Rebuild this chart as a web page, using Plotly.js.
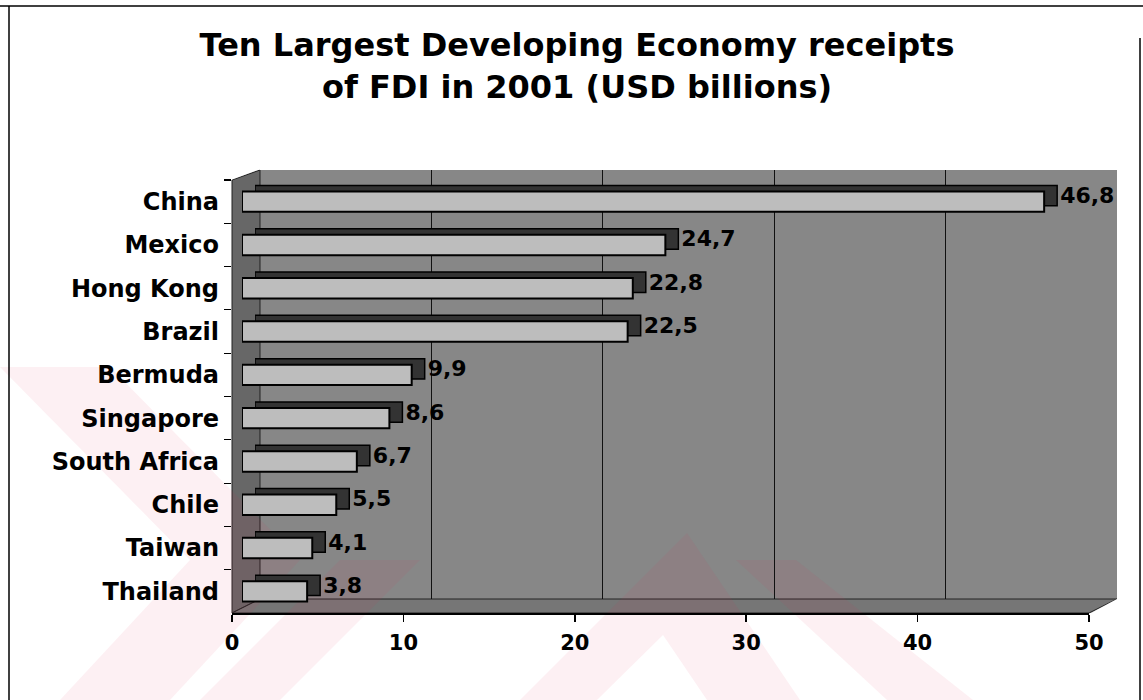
<!DOCTYPE html>
<html>
<head>
<meta charset="utf-8">
<script src="https://cdn.plot.ly/plotly-3.0.1.min.js"></script>
<style>
  html, body { margin: 0; padding: 0; background: #ffffff; }
  #chart { width: 1143px; height: 700px; }
</style>
</head>
<body>
<div id="chart"></div>
<script>
// ---- data ----
const categories = ['China', 'Mexico', 'Hong Kong', 'Brazil', 'Bermuda', 'Singapore', 'South Africa', 'Chile', 'Taiwan', 'Thailand'];
const fdiValues = [46.8, 24.7, 22.8, 22.5, 9.9, 8.6, 6.7, 5.5, 4.1, 3.8];
const xTickValues = [0, 10, 20, 30, 40, 50];
const titleText = 'Ten Largest Developing Economy receipts<br>of FDI in 2001 (USD billions)';

// ---- geometry (pixels) ----
const FIG_W = 1143, FIG_H = 700;
const L = 232, R = 1118, T = 170, B = 613;
function fx(px) { return (px - L) / (R - L); }
function fy(py) { return (B - py) / (B - T); }
function path(pts) {
  return 'M ' + pts.map(p => fx(p[0]).toFixed(5) + ',' + fy(p[1]).toFixed(5)).join(' L ') + ' Z';
}
function polyShape(pts, fill, layer, lineColor, lineWidth) {
  return { type: 'path', xref: 'paper', yref: 'paper', path: path(pts), fillcolor: fill,
           line: { color: lineColor || 'rgba(0,0,0,0)', width: lineWidth || 0 }, layer: layer || 'below' };
}
function lineShape(x0, y0, x1, y1, w) {
  return { type: 'line', xref: 'paper', yref: 'paper', x0: fx(x0), y0: fy(y0), x1: fx(x1), y1: fy(y1),
           line: { color: '#000', width: w || 1.5 }, layer: 'above' };
}

const FONT = 'DejaVu Sans, Verdana, sans-serif';
const AXIS_SPAN = 857; // pixels from 0 to 50

const pink = 'rgba(228,45,80,0.07)';
const shapes = [
  // plot wall background
  polyShape([[232, 170], [1118, 170], [1118, 613], [232, 613]], '#878787'),
  // left wall
  polyShape([[232, 180], [260, 170], [260, 599], [232, 613]], '#676767', 'below', '#222', 1),
  // floor
  polyShape([[232, 613], [260, 599], [1117, 599], [1089, 613]], '#767676', 'below', '#222', 1),
  // white corners outside the 3D box
  polyShape([[231, 169], [261, 169], [231, 180]], '#ffffff'),
  polyShape([[1089, 614], [1119, 614], [1119, 598], [1117, 599]], '#ffffff'),
  polyShape([[1117, 169], [1119, 169], [1119, 614], [1117, 614]], '#ffffff'),
  // faint watermark
  polyShape([[0, 367], [110, 367], [300, 560], [190, 560]], pink),
  polyShape([[190, 560], [300, 560], [170, 700], [60, 700]], pink),
  polyShape([[200, 700], [280, 700], [420, 560], [340, 560]], pink),
  polyShape([[520, 700], [687, 533], [800, 700], [707, 700], [663, 635], [597, 700]], pink),
  polyShape([[736, 560], [796, 560], [973, 700], [887, 700]], pink),
  // outer frame
  lineShape(0, 6, 1143, 6, 1.5),
  lineShape(9, 6, 9, 700, 1.5),
  lineShape(1140, 38, 1140, 700, 1.5)
];

const traces = [
  // empty traces so that the tick axes and the back-wall grid form subplots
  { type: 'scatter', mode: 'markers', x: [], y: [], xaxis: 'x', yaxis: 'y', hoverinfo: 'skip', showlegend: false },
  { type: 'scatter', mode: 'markers', x: [], y: [], xaxis: 'x2', yaxis: 'y3', hoverinfo: 'skip', showlegend: false },
  // back / side face of the bars (gives the 3D cap) + value labels
  {
    type: 'bar', orientation: 'h', y: categories, x: fdiValues,
    xaxis: 'x3', yaxis: 'y2', width: 0.47,
    marker: { color: '#333333', line: { color: '#000', width: 1.5 } },
    texttemplate: '%{x:.1f}', textposition: 'outside', cliponaxis: false, constraintext: 'none',
    textfont: { family: FONT, size: 22, weight: 'bold', color: '#000' },
    hoverinfo: 'skip', showlegend: false
  },
  // front face of the bars
  {
    type: 'bar', orientation: 'h', y: categories, x: fdiValues,
    xaxis: 'x4', yaxis: 'y', width: 0.47,
    marker: { color: '#bdbdbd', line: { color: '#000', width: 2 } },
    textposition: 'none', hovertemplate: '%{y}: %{x:.1f}<extra></extra>', showlegend: false
  }
];

const layout = {
  width: FIG_W, height: FIG_H,
  margin: { l: L, r: FIG_W - R, t: T, b: FIG_H - B, pad: 0 },
  paper_bgcolor: '#ffffff', plot_bgcolor: 'rgba(0,0,0,0)',
  separators: ', ',
  showlegend: false,
  title: {
    text: titleText, xref: 'container', yref: 'container', x: 577 / FIG_W, xanchor: 'center',
    y: 1 - 56 / FIG_H, yanchor: 'top',
    font: { family: FONT, size: 32, weight: 'bold', color: '#000' }
  },
  xaxis: {
    domain: [fx(232), fx(232 + AXIS_SPAN)], range: [0, 50], anchor: 'y',
    tickvals: xTickValues, ticktext: xTickValues.map(String), ticks: 'outside', ticklen: 7, tickwidth: 1.5, tickcolor: '#000',
    showline: true, linecolor: '#000', linewidth: 1.5, showgrid: false, zeroline: false,
    tickfont: { family: FONT, size: 21, weight: 'bold', color: '#000' }, ticklabelstandoff: 3
  },
  xaxis2: {
    domain: [fx(260), fx(260 + AXIS_SPAN)], range: [0, 50], anchor: 'y3',
    tickvals: xTickValues, showticklabels: false, ticks: '', showline: false, zeroline: false,
    showgrid: true, gridcolor: '#111', gridwidth: 1
  },
  xaxis3: { domain: [fx(255), fx(255 + AXIS_SPAN)], range: [0, 50], anchor: 'y2', visible: false },
  xaxis4: { domain: [fx(242), fx(242 + AXIS_SPAN)], range: [0, 50], anchor: 'y', visible: false },
  yaxis: {
    domain: [fy(613), fy(180)], anchor: 'x', type: 'category',
    categoryorder: 'array', categoryarray: categories, range: [9.5, -0.5],
    tickson: 'boundaries', ticks: 'outside', ticklen: 7, tickwidth: 1.2, tickcolor: '#000',
    showline: false, showgrid: false, zeroline: false,
    tickfont: { family: FONT, size: 24, weight: 'bold', color: '#000' }, ticklabelstandoff: 12
  },
  yaxis2: {
    domain: [fy(607), fy(174)], anchor: 'x3', type: 'category',
    categoryorder: 'array', categoryarray: categories, range: [9.5, -0.5], visible: false
  },
  yaxis3: { domain: [fy(599), 1], anchor: 'x2', range: [0, 1], showticklabels: false, ticks: '',
            showline: false, showgrid: false, zeroline: false },
  shapes: shapes
};

Plotly.newPlot('chart', traces, layout, { displayModeBar: false, staticPlot: true });
</script>
</body>
</html>
